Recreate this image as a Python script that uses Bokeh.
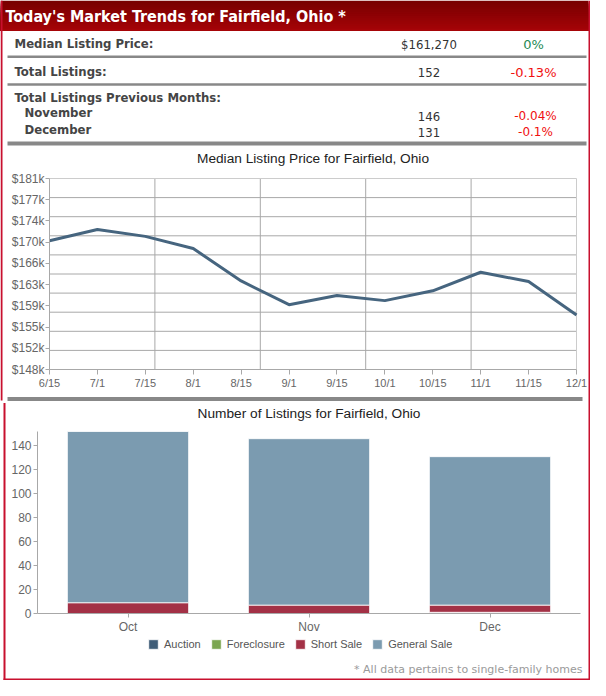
from bokeh.plotting import figure
from bokeh.models import (Range1d, FixedTicker, ColumnDataSource, Legend, LegendItem, LinearAxis)
from bokeh.core.properties import value
from bokeh.embed import file_html
from bokeh.resources import INLINE

# ---------------- data ----------------
header_title = "Today's Market Trends for Fairfield, Ohio *"
row_labels = ["Median Listing Price:", "Total Listings:", "Total Listings Previous Months:"]
month_labels = ["November", "December"]
main_values = ["$161,270", "152"]
main_changes = ["0%", "-0.13%"]
prev_values = ["146", "131"]
prev_changes = ["-0.04%", "-0.1%"]

price_title = "Median Listing Price for Fairfield, Ohio"
dates = ["6/15", "7/1", "7/15", "8/1", "8/15", "9/1", "9/15", "10/1", "10/15", "11/1", "11/15", "12/1"]
prices = [170250, 172200, 171000, 168900, 163300, 159200, 160800, 159900, 161600, 164800, 163200, 157400]
y_tick_values = [148000, 151667, 155333, 159000, 162667, 166333, 170000, 173667, 177333, 181000]
y_tick_labels = ["$148k", "$152k", "$155k", "$159k", "$163k", "$166k", "$170k", "$174k", "$177k", "$181k"]
y_grid_values = [151300, 154600, 157900, 161200, 164500, 167800, 171100, 174400, 177700]
x_grid_values = [2.2, 4.4, 6.6, 8.8]

listings_title = "Number of Listings for Fairfield, Ohio"
months = ["Oct", "Nov", "Dec"]
auction = [0, 0, 1]
foreclosure = [0, 0, 0]
short_sale = [9, 7, 6]
general_sale = [143, 139, 124]
bar_y_ticks = [0, 20, 40, 60, 80, 100, 120, 140]
series_keys = ["auction", "foreclosure", "short_sale", "general_sale"]
series_names = ["Auction", "Foreclosure", "Short Sale", "General Sale"]
series_colors = ["#3f5d78", "#7ba650", "#a33146", "#7b9bb0"]

footnote = "* All data pertains to single-family homes"

# ---------------- styles / layout ----------------
RED = "#c8102e"
COND_FONT = "'DejaVu Sans Condensed', 'DejaVu Sans', sans-serif"
VERD_FONT = "'DejaVu Sans', sans-serif"
CHART_FONT = "'Liberation Sans', Arial, sans-serif"
W, H = 590, 680

# line chart frame (pixels from top-left)
L_LEFT, L_RIGHT, L_TOP, L_BOTTOM = 49, 576, 178, 369
# bar chart frame
B_LEFT, B_RIGHT, B_TOP, B_BOTTOM = 37, 580, 431, 613
HEADER_H = 30.5


def ext_range(v0, v1, p0, p1, total):
    """Range whose value v0 falls on pixel p0 and v1 on pixel p1 of a frame 'total' pixels long."""
    k = (p1 - p0) / (v1 - v0)
    start = v0 - p0 / k
    return Range1d(start, start + total / k)


p = figure(width=W, height=H, x_range=Range1d(0, W), y_range=Range1d(H, 0),
           output_backend="svg", toolbar_location=None, min_border=0,
           x_axis_location=None, y_axis_location=None, title=None)
p.grid.visible = False
p.outline_line_color = None
p.background_fill_color = "white"
p.border_fill_color = "white"

n_pts = len(dates)
p.extra_x_ranges = {
    "lx": ext_range(0, n_pts - 1, L_LEFT, L_RIGHT, W),
    "bx": ext_range(0, len(months), B_LEFT, B_RIGHT, W),
}
totals = [a + b + c + d for a, b, c, d in zip(auction, foreclosure, short_sale, general_sale)]
y_top = max(totals)
p.extra_y_ranges = {
    "ly": ext_range(y_tick_values[0], y_tick_values[-1], H - L_BOTTOM, H - L_TOP, H),
    "by": ext_range(0, y_top, H - B_BOTTOM, H - B_TOP, H),
}

# ---------------- header + table ----------------
n_strips = 16
c0, c1 = (0x78, 0x00, 0x00), (0xa6, 0x04, 0x08)
strip_cols = []
for i in range(n_strips):
    t = i / (n_strips - 1)
    strip_cols.append("#%02x%02x%02x" % tuple(int(a + (b - a) * t) for a, b in zip(c0, c1)))
# layered strips (each reaches the bottom of the bar) so no seams show
p.quad(left=[0] * n_strips, right=[588] * n_strips,
       top=[i * HEADER_H / n_strips for i in range(n_strips)],
       bottom=[HEADER_H] * n_strips,
       fill_color=strip_cols, line_color=None)
p.text(x=[5], y=[15.5], text=[header_title], text_color="white", text_font=value(COND_FONT),
       text_font_style="bold", text_font_size="16px", text_baseline="middle")

p.text(x=[14, 14, 14, 24, 24], y=[43.3, 71, 96.5, 112, 129], text=row_labels + month_labels,
       text_color="#454545", text_font=value(COND_FONT), text_font_style="bold",
       text_font_size="13px", text_baseline="middle")
p.text(x=[428.5] * 4, y=[44, 72, 115.5, 131.5], text=main_values + prev_values, text_color="#333333",
       text_font=value(COND_FONT), text_font_size="13px", text_baseline="middle", text_align="center")
p.text(x=[533], y=[44], text=main_changes[:1], text_color="#1f8a55",
       text_font=value(VERD_FONT), text_font_size="13px", text_baseline="middle", text_align="center")
p.text(x=[533], y=[72], text=main_changes[1:], text_color="#f01010",
       text_font=value(VERD_FONT), text_font_size="13px", text_baseline="middle", text_align="center")
p.text(x=[535, 535], y=[115.5, 131.5], text=prev_changes, text_color="#f01010",
       text_font=value(VERD_FONT), text_font_size="12px", text_baseline="middle", text_align="center")
p.quad(left=[7, 7, 7, 7], right=[586, 586, 586, 582], top=[55, 82.7, 141, 396.5],
       bottom=[57.5, 85.2, 145, 400.5], fill_color="#888888", line_color=None)

# ---------------- line chart ----------------
p.text(x=[(L_LEFT + L_RIGHT) / 2], y=[158], text=[price_title], text_color="#222222",
       text_font=value(CHART_FONT), text_font_size="13.7px", text_baseline="middle", text_align="center")
xi = list(range(n_pts))
ng, nv = len(y_grid_values), len(x_grid_values)
p.segment(x0=[0] * ng, x1=[n_pts - 1] * ng, y0=y_grid_values, y1=y_grid_values,
          line_color="#a8a8a8", line_width=1, x_range_name="lx", y_range_name="ly")
p.segment(x0=x_grid_values, x1=x_grid_values, y0=[y_tick_values[0]] * nv, y1=[y_tick_values[-1]] * nv,
          line_color="#a8a8a8", line_width=1, x_range_name="lx", y_range_name="ly")
# frame outline (top and right)
p.segment(x0=[0, n_pts - 1], x1=[n_pts - 1, n_pts - 1],
          y0=[y_tick_values[-1], y_tick_values[0]], y1=[y_tick_values[-1], y_tick_values[-1]],
          line_color="#cccccc", line_width=1, x_range_name="lx", y_range_name="ly")
p.line(x=xi, y=prices, line_color="#46657f", line_width=3, line_join="round",
       x_range_name="lx", y_range_name="ly")


def style_axis(ax, size, standoff, tick_out):
    ax.axis_line_color = "#a8a8a8"
    ax.major_tick_line_color = "#a8a8a8"
    ax.major_tick_out = tick_out
    ax.major_tick_in = 0
    ax.minor_tick_line_color = None
    ax.major_label_text_color = "#666666"
    ax.major_label_text_font = CHART_FONT
    ax.major_label_text_font_size = size
    ax.major_label_standoff = standoff


lx_axis = LinearAxis(x_range_name="lx", y_range_name="ly", fixed_location=y_tick_values[0],
                     bounds=(0, n_pts - 1), ticker=FixedTicker(ticks=xi),
                     major_label_overrides={i: d for i, d in zip(xi, dates)})
style_axis(lx_axis, "11px", 2, 5)
p.add_layout(lx_axis, "below")
ly_axis = LinearAxis(x_range_name="lx", y_range_name="ly", fixed_location=0,
                     bounds=(y_tick_values[0], y_tick_values[-1]), ticker=FixedTicker(ticks=y_tick_values),
                     major_label_overrides={v: s for v, s in zip(y_tick_values, y_tick_labels)})
style_axis(ly_axis, "12px", 1, 4)
p.add_layout(ly_axis, "left")

# ---------------- bar chart ----------------
p.text(x=[(B_LEFT + B_RIGHT) / 2], y=[413], text=[listings_title], text_color="#222222",
       text_font=value(CHART_FONT), text_font_size="13.7px", text_baseline="middle", text_align="center")
bx_pos = [i + 0.5 for i in range(len(months))]
src = ColumnDataSource(dict(x=bx_pos, auction=auction, foreclosure=foreclosure,
                            short_sale=short_sale, general_sale=general_sale))
rends = p.vbar_stack(series_keys, x="x", width=0.67, color=series_colors,
                     line_color="white", line_width=1, line_alpha=0.8, source=src,
                     x_range_name="bx", y_range_name="by")
bx_axis = LinearAxis(x_range_name="bx", y_range_name="by", fixed_location=0,
                     bounds=(0, len(months)), ticker=FixedTicker(ticks=bx_pos),
                     major_label_overrides={x: m for x, m in zip(bx_pos, months)})
style_axis(bx_axis, "12px", 2, 4)
p.add_layout(bx_axis, "below")
by_axis = LinearAxis(x_range_name="bx", y_range_name="by", fixed_location=0,
                     bounds=(0, y_top), ticker=FixedTicker(ticks=bar_y_ticks))
style_axis(by_axis, "12px", 2, 4)
p.add_layout(by_axis, "left")

legend = Legend(items=[LegendItem(label=n, renderers=[r]) for n, r in zip(series_names, rends)],
                orientation="horizontal", location=(147, H - 649.5),
                border_line_color=None, background_fill_alpha=0,
                glyph_width=12, glyph_height=12, label_standoff=5, spacing=9,
                padding=0, margin=0, label_height=12,
                label_text_font=CHART_FONT, label_text_font_size="11px", label_text_color="#555555")
p.add_layout(legend, "center")

# ---------------- footnote ----------------
p.text(x=[582], y=[669], text=[footnote], text_color="#9a9a9a", text_font=value(VERD_FONT),
       text_font_size="11px", text_baseline="middle", text_align="right")

# ---------------- outer border ----------------
p.quad(left=[0, 3, 588, 3], right=[2, 5, 590, 590], top=[0, 402.5, 0, 678],
       bottom=[400, 680, 680, 680], fill_color=RED, line_color=None)

open("out.html", "w").write(file_html(p, INLINE))
